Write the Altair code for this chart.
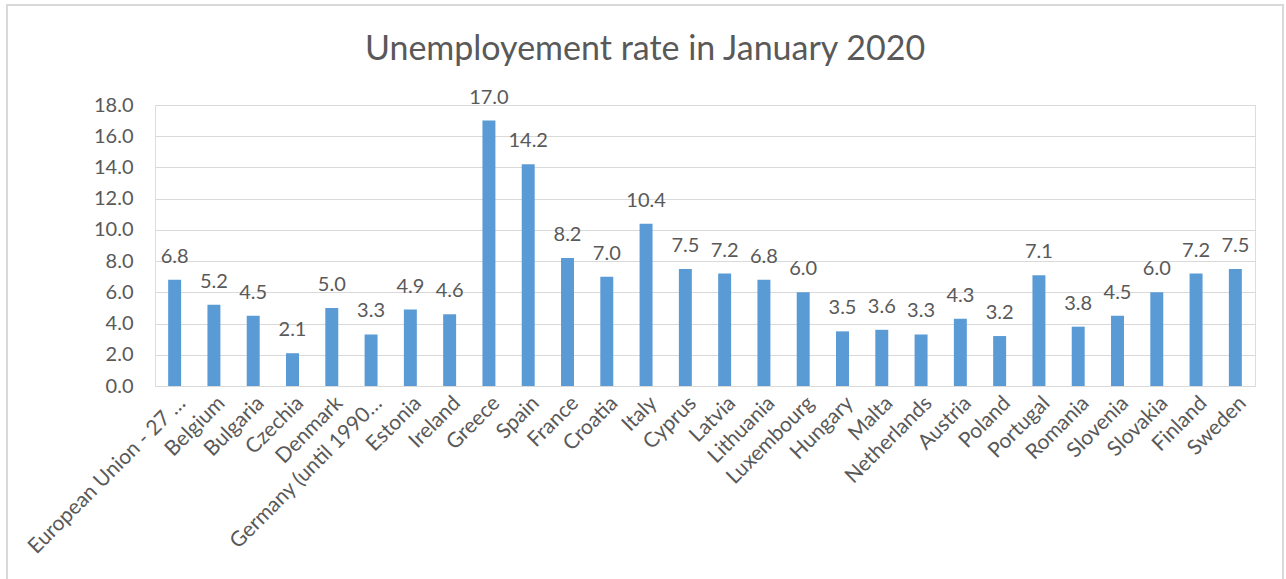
import altair as alt
import pandas as pd

countries = [
    "European Union - 27 …", "Belgium", "Bulgaria", "Czechia", "Denmark",
    "Germany (until 1990…", "Estonia", "Ireland", "Greece", "Spain", "France",
    "Croatia", "Italy", "Cyprus", "Latvia", "Lithuania", "Luxembourg", "Hungary",
    "Malta", "Netherlands", "Austria", "Poland", "Portugal", "Romania",
    "Slovenia", "Slovakia", "Finland", "Sweden",
]
rates = [6.8, 5.2, 4.5, 2.1, 5.0, 3.3, 4.9, 4.6, 17.0, 14.2, 8.2, 7.0, 10.4,
         7.5, 7.2, 6.8, 6.0, 3.5, 3.6, 3.3, 4.3, 3.2, 7.1, 3.8, 4.5, 6.0, 7.2, 7.5]

df = pd.DataFrame({"country": countries, "rate": rates})

FONT = "Lato"
GREY = "#595959"
FS = 20

x = alt.X("country:N", sort=None, title=None,
          scale=alt.Scale(paddingInner=0.67, paddingOuter=0.335),
          axis=alt.Axis(labelAngle=-45, labelFontSize=21, labelColor=GREY,
                        labelFont=FONT, ticks=False, domainColor="#D9D9D9",
                        domainWidth=1, labelPadding=6, labelLimit=400))
y = alt.Y("rate:Q", title=None,
          scale=alt.Scale(domain=[0, 18], nice=False),
          axis=alt.Axis(values=[0, 2, 4, 6, 8, 10, 12, 14, 16, 18], format=".1f",
                        labelFontSize=FS, labelColor=GREY, labelFont=FONT,
                        ticks=False, domain=False, gridColor="#D9D9D9",
                        gridWidth=1, labelPadding=22))

frame = alt.Chart(df).mark_rect(filled=False, stroke="#D9D9D9", strokeWidth=1.5).encode(
    x=alt.value(-148), x2=alt.value(1128), y=alt.value(-100), y2=alt.value(600)
)

bars = alt.Chart(df).mark_bar(color="#5B9BD5").encode(x=x, y=y)
labels = alt.Chart(df).mark_text(baseline="bottom", dy=-13, fontSize=FS,
                                 font=FONT, color=GREY).encode(
    x=x, y=y, text=alt.Text("rate:Q", format=".1f"))

chart = alt.layer(frame, bars, labels).properties(
    width=1100, height=281,
    title=alt.TitleParams("Unemployement rate in January 2020", font=FONT,
                          fontSize=34, fontWeight="normal", color=GREY,
                          anchor="middle", frame="bounds", offset=-63),
    autosize=alt.AutoSizeParams(type="none"),
    padding={"left": 155, "top": 105, "right": 31, "bottom": 193},
).configure_view(stroke=None).configure(background="white")

chart.save("out.html", embed_options={"renderer": "svg", "actions": False})
